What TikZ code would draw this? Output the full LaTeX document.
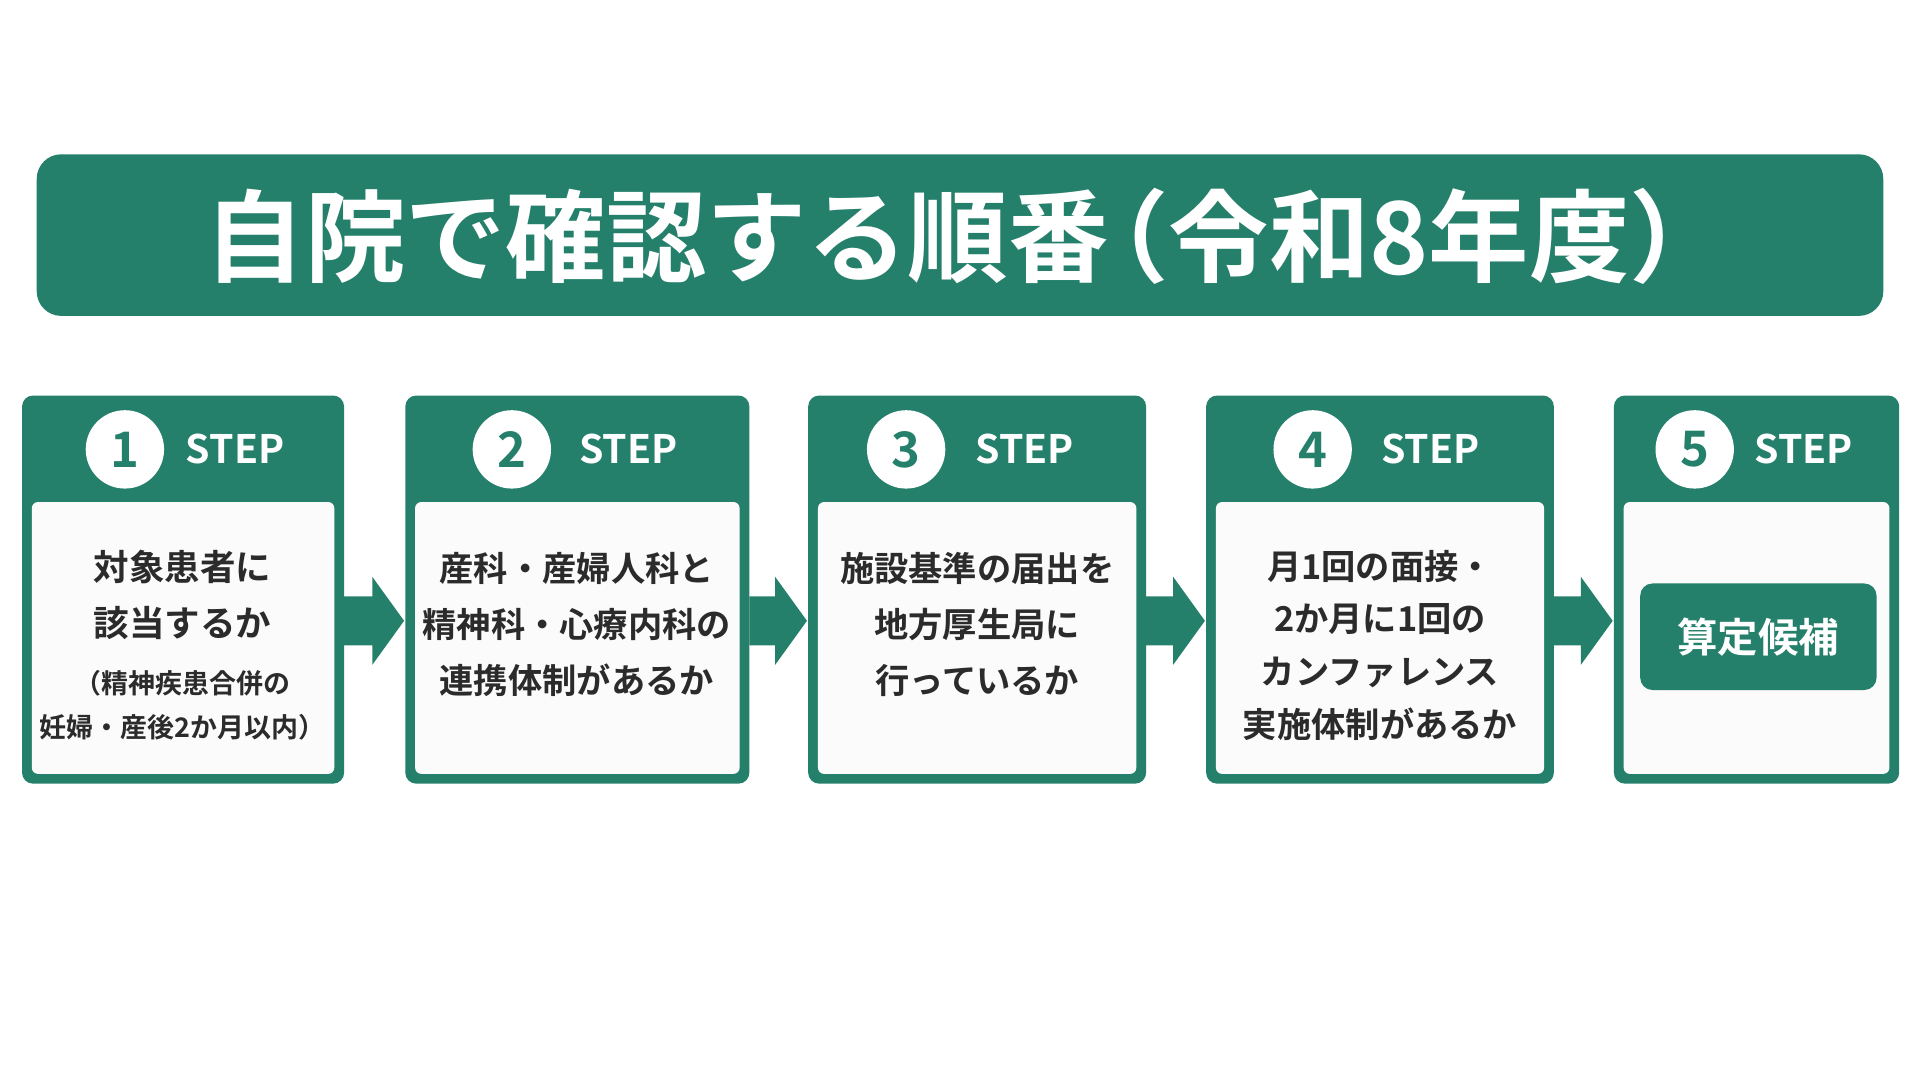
\documentclass[tikz,border=0pt]{standalone}
\usepackage{fontspec}
\newfontfamily\jp{Noto Sans CJK JP}[BoldFont={* Bold}]
\definecolor{gr}{HTML}{25806B}
\definecolor{tx}{HTML}{2B2B2B}
\begin{document}
\begin{tikzpicture}[x=1pt,y=-1pt,
  outer/.style={fill=gr,rounded corners=9pt},
  inner/.style={fill=white!97!gray,rounded corners=5pt},
  num/.style={circle,fill=white,minimum size=64pt,inner sep=0pt,text=gr,font=\jp\bfseries\fontsize{40}{40}\selectfont},
  steplbl/.style={text=white,font=\jp\bfseries\fontsize{32}{32}\selectfont},
  body/.style={text=tx,align=center,font=\jp\bfseries\fontsize{28}{46}\selectfont},
  arr/.style={fill=gr}]
\useasboundingbox (0,0) rectangle (1568,882);
\fill[white] (0,0) rectangle (1568,882);
\fill[gr,rounded corners=20pt] (30,126) rectangle (1538,258);
\node[text=white,font=\jp\bfseries\fontsize{82}{82}\selectfont] (title) at (790,193) {自院で確認する順番\hspace{-0.4em}（令和8年度）};
\foreach \i/\a/\b/\cx/\sx in {1/18/281/102/192,2/331/612/418/513,3/660/936/740/837,4/985/1269/1072/1168,5/1318/1551/1384/1473}{
  \fill[outer] (\a,323) rectangle (\b,640);
  \fill[inner] (\a+8,410) rectangle (\b-8,632);
  \node[num] (n\i) at (\cx,367) {\i};
  \node[steplbl] (s\i) at (\sx,367) {STEP};
}
\foreach \a/\b in {281/331,612/660,936/985,1269/1318}{
  \fill[arr] (\a,487) -- (\b-27,487) -- (\b-27,471) -- (\b-1,507) -- (\b-27,543) -- (\b-27,527) -- (\a,527) -- cycle;
}
\node[body,font=\jp\bfseries\fontsize{29}{46}\selectfont] (t1) at (149,486) {対象患者に\\該当するか};
\node[text=tx,align=center,font=\jp\bfseries\fontsize{22}{36}\selectfont] (t1b) at (149,576) {（精神疾患合併の\\妊婦・産後2か月以内）};
\node[body] (t2) at (471,510) {産科・産婦人科と\\精神科・心療内科の\\連携体制があるか};
\node[body] (t3) at (798,510) {施設基準の届出を\\地方厚生局に\\行っているか};
\node[body,font=\jp\bfseries\fontsize{28}{43}\selectfont] (t4) at (1127,527) {月1回の面接・\\2か月に1回の\\カンファレンス\\実施体制があるか};
\node[fill=gr,rounded corners=10pt,minimum width=193pt,minimum height=87pt,text=white,font=\jp\bfseries\fontsize{33}{33}\selectfont] (t5) at (1436,520) {算定候補};
\end{tikzpicture}
\end{document}
